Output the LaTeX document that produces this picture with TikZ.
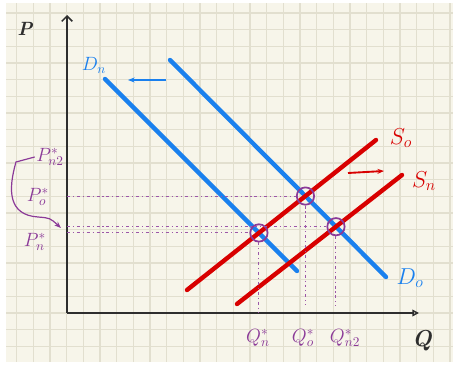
\documentclass[tikz,border=0pt]{standalone}
\usepackage{amsmath}
\usepackage{tikz}
\usetikzlibrary{arrows.meta, calc, positioning}
\usepackage{xcolor}
\definecolor{mBlue}{HTML}{1A80EE}
\definecolor{mRed}{HTML}{D80000}
\definecolor{mPurple}{HTML}{8B3A98}
\definecolor{mPaper}{HTML}{F7F5EA}
\definecolor{mGridline}{HTML}{E2DFCF}
\definecolor{mInk}{HTML}{2E2E2E}

\begin{document}
\begin{tikzpicture}[x=0.75pt, y=-0.75pt, >={Stealth[length=5pt]},
  curve/.style={line width=3.3pt, line cap=round},
  guide/.style={mPurple!85, line width=0.8pt, dash pattern=on 2.2pt off 2.2pt on 0.8pt off 2.2pt},
  eq/.style={circle, draw=mPurple, line width=1.3pt, minimum size=13pt, inner sep=0pt},
  plab/.style={mPurple, font=\Large, inner sep=1pt}]
  \useasboundingbox (0,0) rectangle (453,364);
  % squared paper
  \fill[white] (0,0) rectangle (453,364);
  \fill[mPaper] (6,3) rectangle (453,362);
  \foreach \i in {1,...,27}
    \draw[mGridline, line width=1.1pt] ({16.67*\i},3) -- ({16.67*\i},362);
  \foreach \j in {0,...,20}
    \draw[mGridline, line width=1.1pt] (6,{12.9+16.67*\j}) -- (453,{12.9+16.67*\j});
  % axes
  \coordinate (O) at (67,313);
  \coordinate (ytop) at (67,15);
  \coordinate (xend) at (419,313);
  \draw[mInk, line width=1.1pt, -{Straight Barb[length=4pt]}] (O) -- (ytop);
  \draw[mInk, line width=1.1pt, -{Triangle[open, length=5pt, width=5pt]}] (O) -- (xend);
  \node[mInk, font=\Large\bfseries\itshape] (plabel) at (25,29) {P};
  \node[mInk, font=\LARGE\bfseries\itshape] (qlabel) at (422,341) {Q};
  % demand and supply
  \coordinate (dn1) at (105,79);  \coordinate (dn2) at (297,271);
  \coordinate (do1) at (170,60);  \coordinate (do2) at (386,277);
  \coordinate (so1) at (187,290); \coordinate (so2) at (376,140);
  \coordinate (sn1) at (237,304); \coordinate (sn2) at (402,175);
  \draw[curve, mBlue] (dn1) -- (dn2);
  \draw[curve, mBlue] (do1) -- (do2);
  \draw[curve, mRed] (so1) -- (so2);
  \draw[curve, mRed] (sn1) -- (sn2);
  \node[mBlue, font=\Large] (dnlab) at (94,65) {$D_n$};
  \node[mBlue, font=\LARGE] (dolab) at (410,278) {$D_o$};
  \node[mRed, font=\LARGE] (solab) at (401,138) {$S_o$};
  \node[mRed, font=\LARGE] (snlab) at (424,181) {$S_n$};
  % shifts
  \coordinate (bs) at (166,80);  \coordinate (be) at (128,80);
  \coordinate (rs) at (348,173); \coordinate (re) at (384,171);
  \draw[mBlue, line width=1.6pt, ->] (bs) -- (be);
  \draw[mRed, line width=1.4pt, ->] (rs) -- (re);
  % equilibria
  \coordinate (E0) at (intersection of do1--do2 and so1--so2);
  \coordinate (En) at (intersection of dn1--dn2 and so1--so2);
  \coordinate (E2) at (intersection of do1--do2 and sn1--sn2);
  \node[eq] (e0) at (E0) {};
  \node[eq] (en) at (En) {};
  \node[eq] (e2) at (E2) {};
  \draw[guide] (O |- E0) -- (e0);
  \draw[guide] (O |- E2) -- (e2);
  \draw[guide] (O |- En) -- (en);
  \draw[guide] (en) -- (En |- O);
  \draw[guide] (e0) -- ($(E0 |- O)+(0,-8)$);
  \draw[guide] (e2) -- ($(E2 |- O)+(0,-7)$);
  % price and quantity labels
  \node[plab] (pn2) at (50,157) {$P^*_{n2}$};
  \node[plab] (p0) at (38,197) {$P^*_o$};
  \node[plab] (pn) at (35,242) {$P^*_n$};
  \node[plab] (qn) at (258,338) {$Q^*_n$};
  \node[plab] (q0) at (303,338) {$Q^*_o$};
  \node[plab] (qn2) at (345,338) {$Q^*_{n2}$};
  \coordinate (pstar) at (61,228);
  \draw[mPurple, line width=0.9pt, ->] (pn2.west) -- (16,162)
    .. controls (8,190) and (8,215) .. (38,217) .. controls (50,218) .. (pstar);
\end{tikzpicture}
\end{document}
